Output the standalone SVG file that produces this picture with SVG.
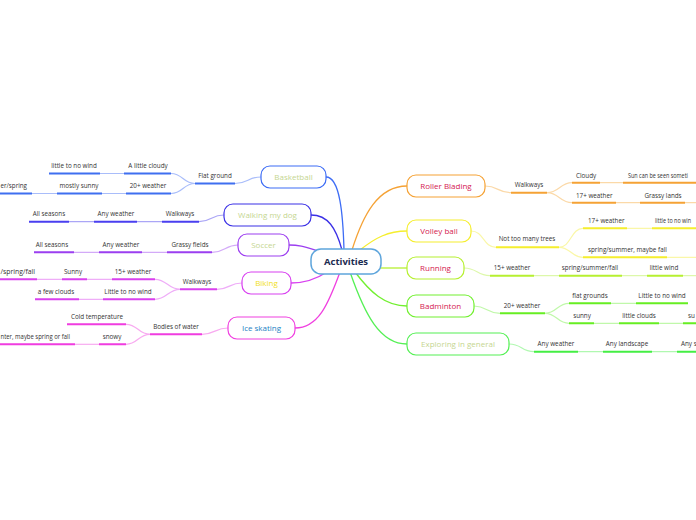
<svg xmlns="http://www.w3.org/2000/svg" width="696" height="520" viewBox="0 0 696 520">
<style>
.t{font-family:"Open Sans","Noto Sans",sans-serif;font-size:6.3px;fill:#333}
.m{font-family:"Open Sans","Noto Sans",sans-serif;font-size:8px;text-anchor:middle}
.c{font-family:"Open Sans","Noto Sans",sans-serif;font-size:9.5px;font-weight:bold;text-anchor:middle;fill:#1b2b50}
.mid{text-anchor:middle}
.end{text-anchor:end}
.box{fill:#fff;stroke-width:1.2}
.u{stroke-width:2;fill:none}
.l{stroke-width:1.2;fill:none}
.k{stroke-width:1.3;fill:none}
.pale{fill:#c5d690}
.red{fill:#d42050}
</style>
<g id="connectors">
<path class="k" stroke="#3d6cf5" d="M344,250 C343,215 340,177 326,177"/>
<path class="k" stroke="#3b30e6" d="M342,250 C336,228 328,215 311,215"/>
<path class="k" stroke="#9c3ef0" d="M318,251 C305,247 300,245 289,245"/>
<path class="k" stroke="#d840f0" d="M327,272 C315,280 305,283 291,283"/>
<path class="k" stroke="#f040e0" d="M340,272 C328,305 318,328 295,328"/>
<path class="k" stroke="#f5a235" d="M352,250 C363,215 378,186 407,186"/>
<path class="k" stroke="#f5ee2e" d="M360,250 C375,238 388,231 407,231"/>
<path class="k" stroke="#b6f030" d="M380,268 C390,268 398,268 407,268"/>
<path class="k" stroke="#72f030" d="M355,272 C370,292 385,306 407,306"/>
<path class="k" stroke="#55f055" d="M350,272 C365,315 380,344 407,344"/>
</g>
<g id="center">
<rect x="311" y="249" width="70" height="25" rx="10" fill="#fff" stroke="#5ea5dc" stroke-width="1.5"/>
<text class="c" x="346" y="265">Activities</text>
</g>
<g id="basketball">
<g stroke="#a9bdfa" class="l">
<path d="M261,177 C248,177 248,183.5 235,183.5"/>
<path d="M195,183.5 C183,183.5 183,173.5 171,173.5"/>
<path d="M195,183.5 C183,183.5 183,193.5 171,193.5"/>
<path d="M100,173.5 H124 M102,193.5 H126 M32,193.5 H57"/>
</g>
<g stroke="#3f6ff0" class="u">
<path d="M195,183.5 H235 M124,173.5 H171 M49,173.5 H100 M126,193.5 H171 M57,193.5 H102 M0,193.5 H32"/>
</g>
<rect class="box" stroke="#3d6cf5" x="261" y="166" width="65" height="22" rx="9"/>
<text class="m pale" x="293.5" y="180">Basketball</text>
<text class="t mid" x="215" y="178">Flat ground</text>
<text class="t mid" x="148" y="168">A little cloudy</text>
<text class="t mid" x="74" y="168">little to no wind</text>
<text class="t mid" x="148" y="188.2">20+ weather</text>
<text class="t mid" x="79" y="188.2">mostly sunny</text>
<text class="t" x="0.5" y="188.2" textLength="26.5" lengthAdjust="spacingAndGlyphs">er/spring</text>
</g>
<g id="walking">
<g stroke="#aba6f6" class="l">
<path d="M224,215 C211,215 212,221.7 199,221.7"/>
<path d="M137,221.7 H162 M69,221.7 H94"/>
</g>
<path class="u" stroke="#4a3ff0" d="M162,221.7 H199 M94,221.7 H137 M29,221.7 H69"/>
<rect class="box" stroke="#3b30e6" x="224" y="204" width="87" height="22" rx="9"/>
<text class="m pale" x="267.5" y="218">Walking my dog</text>
<text class="t mid" x="180" y="216.3">Walkways</text>
<text class="t mid" x="116" y="216.3">Any weather</text>
<text class="t mid" x="49" y="216.3">All seasons</text>
</g>
<g id="soccer">
<g stroke="#d3aaf8" class="l">
<path d="M238,245 C225,245 225,252.3 212,252.3"/>
<path d="M142,252.3 H167 M74,252.3 H99"/>
</g>
<path class="u" stroke="#9b3ff0" d="M167,252.3 H212 M99,252.3 H142 M34,252.3 H74"/>
<rect class="box" stroke="#9c3ef0" x="238" y="234" width="51" height="22" rx="9"/>
<text class="m pale" x="263.5" y="248">Soccer</text>
<text class="t mid" x="190" y="247.3">Grassy fields</text>
<text class="t mid" x="121" y="247.3">Any weather</text>
<text class="t mid" x="52" y="247.3">All seasons</text>
</g>
<g id="biking">
<g stroke="#efadf8" class="l">
<path d="M242,283 C229,283 230,289.3 217,289.3"/>
<path d="M180,289.3 C168,289.3 167,279.3 155,279.3"/>
<path d="M180,289.3 C168,289.3 167,299.3 155,299.3"/>
<path d="M87,279.3 H112 M37,279.3 H62 M79,299.3 H103"/>
</g>
<path class="u" stroke="#d940ee" d="M180,289.3 H217 M112,279.3 H155 M62,279.3 H87 M0,279.3 H37 M103,299.3 H155 M35,299.3 H79"/>
<rect class="box" stroke="#d840f0" x="242" y="272" width="49" height="22" rx="9"/>
<text class="m" fill="#f0e020" x="266.5" y="286">Biking</text>
<text class="t mid" x="197" y="284">Walkways</text>
<text class="t mid" x="133" y="274.3">15+ weather</text>
<text class="t mid" x="73" y="274.3">Sunny</text>
<text class="t" x="0.5" y="274.3" textLength="34.5" lengthAdjust="spacingAndGlyphs">/spring/fall</text>
<text class="t mid" x="128" y="294">Little to no wind</text>
<text class="t mid" x="56" y="294">a few clouds</text>
</g>
<g id="iceskating">
<g stroke="#f8aaf0" class="l">
<path d="M228,328 C215,328 215,334.3 202,334.3"/>
<path d="M150,334.3 C138,334.3 138,324.3 126,324.3"/>
<path d="M150,334.3 C138,334.3 138,344.3 126,344.3"/>
<path d="M75,344.3 H99"/>
</g>
<path class="u" stroke="#f03ce0" d="M150,334.3 H202 M67,324.3 H126 M99,344.3 H126 M0,344.3 H75"/>
<rect class="box" stroke="#f040e0" x="228" y="317" width="67" height="22" rx="9"/>
<text class="m" fill="#1d7fc4" x="261.5" y="331">Ice skating</text>
<text class="t mid" x="176" y="329">Bodies of water</text>
<text class="t mid" x="97" y="319">Cold temperature</text>
<text class="t mid" x="112" y="339">snowy</text>
<text class="t" x="0.5" y="339" textLength="69.5" lengthAdjust="spacingAndGlyphs">nter, maybe spring or fall</text>
</g>
<g id="rollerblading">
<g stroke="#fbd9a8" class="l">
<path d="M485,186 C498,186 498,192.7 511,192.7"/>
<path d="M547,192.7 C559,192.7 560,182.7 572,182.7"/>
<path d="M547,192.7 C559,192.7 560,202.7 572,202.7"/>
<path d="M600,182.7 H623 M616,202.7 H640 M685,202.7 H696"/>
</g>
<path class="u" stroke="#f5a235" d="M511,192.7 H547 M572,182.7 H600 M623,182.7 H696 M572,202.7 H616 M640,202.7 H685"/>
<rect class="box" stroke="#f5a235" x="407" y="175" width="78" height="22" rx="9"/>
<text class="m red" x="446" y="189">Roller Blading</text>
<text class="t mid" x="529" y="187.3">Walkways</text>
<text class="t" x="576" y="178">Cloudy</text>
<text class="t" x="628" y="178" textLength="60" lengthAdjust="spacingAndGlyphs">Sun can be seen someti</text>
<text class="t" x="576" y="198">17+ weather</text>
<text class="t mid" x="663" y="198">Grassy lands</text>
</g>
<g id="volleyball">
<g stroke="#faf7a8" class="l">
<path d="M471,231 C484,231 483,247.3 496,247.3"/>
<path d="M559,247.3 C571,247.3 571,228.3 583,228.3"/>
<path d="M559,247.3 C571,247.3 571,257.3 583,257.3"/>
<path d="M627,228.3 H652 M667,257.3 H696"/>
</g>
<path class="u" stroke="#f5ee2e" d="M496,247.3 H559 M583,228.3 H627 M652,228.3 H696 M583,257.3 H667"/>
<rect class="box" stroke="#f5ee2e" x="407" y="220" width="64" height="22" rx="9"/>
<text class="m red" x="439" y="234">Volley ball</text>
<text class="t mid" x="527" y="241.3">Not too many trees</text>
<text class="t" x="588" y="223">17+ weather</text>
<text class="t" x="655" y="223" textLength="36" lengthAdjust="spacingAndGlyphs">little to no win</text>
<text class="t" x="588" y="252.3">spring/summer, maybe fall</text>
</g>
<g id="running">
<g stroke="#ddf8aa" class="l">
<path d="M464,268 C477,268 477,275.7 490,275.7"/>
<path d="M534,275.7 H559 M622,275.7 H647 M683,275.7 H696"/>
</g>
<path class="u" stroke="#b6f030" d="M490,275.7 H534 M559,275.7 H622 M647,275.7 H683"/>
<rect class="box" stroke="#b6f030" x="407" y="257" width="57" height="22" rx="9"/>
<text class="m red" x="435.5" y="271">Running</text>
<text class="t mid" x="512" y="270">15+ weather</text>
<text class="t mid" x="590" y="270">spring/summer/fall</text>
<text class="t mid" x="664" y="270">little wind</text>
</g>
<g id="badminton">
<g stroke="#c0f8aa" class="l">
<path d="M474,306 C487,306 487,313.3 500,313.3"/>
<path d="M545,313.3 C557,313.3 557,303.3 569,303.3"/>
<path d="M545,313.3 C557,313.3 557,323.3 569,323.3"/>
<path d="M611,303.3 H636 M594,323.3 H619 M659,323.3 H683"/>
</g>
<path class="u" stroke="#66ee22" d="M500,313.3 H545 M569,303.3 H611 M636,303.3 H688 M569,323.3 H594 M619,323.3 H659 M683,323.3 H696"/>
<rect class="box" stroke="#72f030" x="407" y="295" width="67" height="22" rx="9"/>
<text class="m red" x="440.5" y="309">Badminton</text>
<text class="t mid" x="522" y="308.3">20+ weather</text>
<text class="t mid" x="590" y="298">flat grounds</text>
<text class="t mid" x="662" y="298">Little to no wind</text>
<text class="t mid" x="582" y="318.3">sunny</text>
<text class="t mid" x="639" y="318.3">little clouds</text>
<text class="t" x="688" y="318.3">su</text>
</g>
<g id="exploring">
<g stroke="#b0f8b0" class="l">
<path d="M509,344 C522,344 521,351.7 534,351.7"/>
<path d="M578,351.7 H603 M652,351.7 H677"/>
</g>
<path class="u" stroke="#44ee44" d="M534,351.7 H578 M603,351.7 H652 M677,351.7 H696"/>
<rect class="box" stroke="#55f055" x="407" y="333" width="102" height="22" rx="9"/>
<text class="m pale" x="458" y="347">Exploring in general</text>
<text class="t mid" x="556" y="346.3">Any weather</text>
<text class="t mid" x="627" y="346.3">Any landscape</text>
<text class="t" x="681" y="346.3">Any s</text>
</g>
</svg>
